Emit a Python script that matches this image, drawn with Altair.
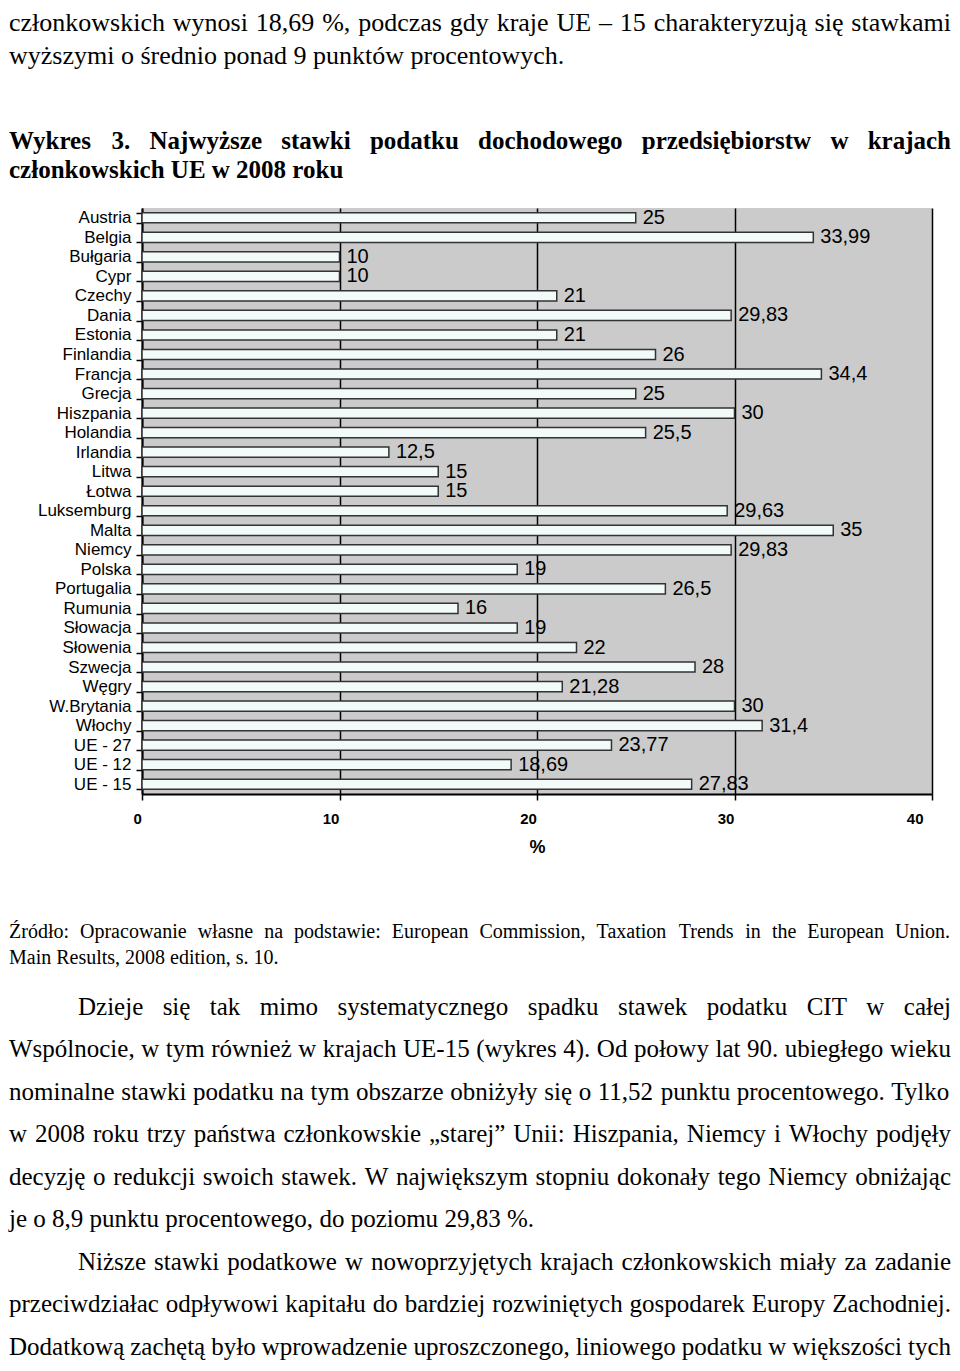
import altair as alt
import pandas as pd

# ---------------- chart data ----------------
countries = ["Austria", "Belgia", "Bułgaria", "Cypr", "Czechy", "Dania", "Estonia",
             "Finlandia", "Francja", "Grecja", "Hiszpania", "Holandia", "Irlandia",
             "Litwa", "Łotwa", "Luksemburg", "Malta", "Niemcy", "Polska", "Portugalia",
             "Rumunia", "Słowacja", "Słowenia", "Szwecja", "Węgry", "W.Brytania",
             "Włochy", "UE - 27", "UE - 12", "UE - 15"]
rates = [25, 33.99, 10, 10, 21, 29.83, 21, 26, 34.4, 25, 30, 25.5, 12.5, 15, 15,
         29.63, 35, 29.83, 19, 26.5, 16, 19, 22, 28, 21.28, 30, 31.4, 23.77, 18.69, 27.83]
x_ticks = [0, 10, 20, 30, 40]

# ---------------- page text ----------------
top_lines = ["członkowskich wynosi 18,69 %, podczas gdy kraje UE – 15 charakteryzują się stawkami",
             "wyższymi o średnio ponad 9 punktów procentowych."]
title_lines = ["Wykres 3. Najwyższe stawki podatku dochodowego przedsiębiorstw w krajach",
               "członkowskich UE w 2008 roku"]
source_lines = ["Źródło: Opracowanie własne na podstawie: European Commission, Taxation Trends in the European Union.",
                "Main Results, 2008 edition, s. 10."]
body_lines = ["Dzieje się tak mimo systematycznego spadku stawek podatku CIT w całej",
              "Wspólnocie, w tym również w krajach UE-15 (wykres 4). Od połowy lat 90. ubiegłego wieku",
              "nominalne stawki podatku na tym obszarze obniżyły się o 11,52 punktu procentowego. Tylko",
              "w 2008 roku trzy państwa członkowskie „starej” Unii: Hiszpania, Niemcy i Włochy podjęły",
              "decyzję o redukcji swoich stawek. W największym stopniu dokonały tego Niemcy obniżając",
              "je o 8,9 punktu procentowego, do poziomu 29,83 %.",
              "Niższe stawki podatkowe w nowoprzyjętych krajach członkowskich miały za zadanie",
              "przeciwdziałac odpływowi kapitału do bardziej rozwiniętych gospodarek Europy Zachodniej.",
              "Dodatkową zachętą było wprowadzenie uproszczonego, liniowego podatku w większości tych"]

# ---------------- layout (page pixels) ----------------
PLOT_LEFT, PLOT_TOP = 142, 208
PLOT_W, PLOT_H = 790, 586
SVG_W, SVG_H = 944, 1355

# Times metrics (1/1000 em) to justify lines like the original document
TR = dict(zip("abcdefghijklmnopqrstuvwxyz",
              [444, 500, 444, 500, 444, 333, 500, 500, 278, 278, 500, 278, 778, 500, 500, 500, 500,
               333, 389, 278, 500, 500, 722, 500, 500, 444]))
TR.update(zip("ABCDEFGHIJKLMNOPQRSTUVWXYZ",
              [722, 667, 667, 722, 611, 556, 722, 722, 333, 389, 722, 611, 889, 722, 722, 556, 722,
               667, 556, 611, 722, 722, 944, 722, 722, 611]))
TR.update({c: 500 for c in "0123456789"})
TR.update({" ": 250, ",": 250, ".": 250, ":": 278, ";": 278, "%": 833, "(": 333, ")": 333,
           "-": 333, "–": 500, "„": 444, "”": 444})
TB = dict(zip("abcdefghijklmnopqrstuvwxyz",
              [500, 556, 444, 556, 444, 333, 500, 556, 278, 333, 556, 278, 833, 556, 500, 556, 556,
               444, 389, 333, 556, 500, 722, 500, 500, 444]))
TB.update(zip("ABCDEFGHIJKLMNOPQRSTUVWXYZ",
              [722, 667, 722, 722, 667, 611, 778, 778, 389, 500, 778, 667, 944, 722, 778, 611, 778,
               722, 556, 667, 722, 722, 1000, 722, 722, 667]))
TB.update({c: 500 for c in "0123456789"})
TB.update({" ": 250, ",": 250, ".": 250, ":": 333, "%": 1000, "(": 333, ")": 333, "-": 333})
BASE = str.maketrans("ąćęłńóśźżĄĆĘŁŃÓŚŹŻ", "acelnoszzACELNOSZZ")


def word_w(w, fs, bold):
    t = TB if bold else TR
    return sum(t.get(ch, 500) for ch in w.translate(BASE)) / 1000.0 * fs


def layout(line, x0, x1, yc, fs, justify, bold):
    words = line.split(" ")
    widths = [word_w(w, fs, bold) for w in words]
    if justify and len(words) > 1:
        gap = (x1 - x0 - sum(widths)) / (len(words) - 1)
    else:
        gap = 0.25 * fs
    rows, x = [], x0
    for w, wd in zip(words, widths):
        rows.append({"w": w, "px": x - PLOT_LEFT, "py": yc - PLOT_TOP, "fs": fs})
        x += wd + gap
    return rows


L, R = 9, 951
reg_rows, bold_rows = [], []
reg_rows += layout(top_lines[0], L, R, 23, 26, True, False)
reg_rows += layout(top_lines[1], L, R, 56, 26, False, False)
bold_rows += layout(title_lines[0], L, R, 141, 25, True, True)
bold_rows += layout(title_lines[1], L, R, 170, 25, False, True)
reg_rows += layout(source_lines[0], L, 950, 932, 20, True, False)
reg_rows += layout(source_lines[1], L, 950, 958, 20, False, False)
body_y = [1007, 1049, 1092, 1134, 1177, 1219, 1262, 1304, 1347]
body_x0 = [78, L, L, L, L, L, 78, L, L]
body_just = [True, True, True, True, True, False, True, True, True]
for ln, yy, xx, jj in zip(body_lines, body_y, body_x0, body_just):
    reg_rows += layout(ln, xx, R, yy, 25, jj, False)

df_reg = pd.DataFrame(reg_rows)
df_bold = pd.DataFrame(bold_rows)

df = pd.DataFrame({"kraj": countries, "stawka": rates})
df["etykieta"] = [f"{v:g}".replace(".", ",") for v in rates]

# ---------------- chart ----------------
x_enc = alt.X("stawka:Q",
              scale=alt.Scale(domain=[0, 40], nice=False, zero=True),
              axis=alt.Axis(values=x_ticks, title="%", grid=True, gridColor="black",
                            gridWidth=1.5, domainColor="black", domainWidth=2,
                            tickColor="black", tickWidth=1.5, tickSize=6,
                            labelFont="Liberation Sans", labelFontSize=15,
                            labelFontWeight="bold", labelColor="black", labelPadding=11,
                            labelOffset=-9, titleFont="Liberation Sans", titleFontSize=18,
                            titleFontWeight="bold", titleColor="black", titlePadding=12))
y_enc = alt.Y("kraj:N", sort=countries,
              scale=alt.Scale(paddingInner=0.48, paddingOuter=0.24),
              axis=alt.Axis(title=None, domainColor="black", domainWidth=2,
                            tickColor="black", tickWidth=1.5, tickSize=6, tickBand="extent",
                            labelFont="Liberation Sans", labelFontSize=17,
                            labelColor="black", labelPadding=5, grid=False))

bars = alt.Chart(df).mark_bar(fill="#f3fafa", stroke="#333333", strokeWidth=1.5).encode(
    x=x_enc, y=y_enc)
labels = alt.Chart(df).mark_text(align="left", baseline="middle", dx=7,
                                 font="Liberation Sans", fontSize=20, color="black").encode(
    x="stawka:Q", y=alt.Y("kraj:N", sort=countries), text="etykieta:N")

chart_part = alt.layer(bars, labels)

txt_reg = alt.Chart(df_reg).mark_text(align="left", baseline="middle",
                                      font="Liberation Serif", color="black").encode(
    x=alt.X("px:Q", scale=None, axis=None),
    y=alt.Y("py:Q", scale=None, axis=None),
    size=alt.Size("fs:Q", scale=None, legend=None),
    text="w:N")
txt_bold = alt.Chart(df_bold).mark_text(align="left", baseline="middle",
                                        font="Liberation Serif", fontWeight="bold",
                                        color="black").encode(
    x=alt.X("px:Q", scale=None, axis=None),
    y=alt.Y("py:Q", scale=None, axis=None),
    size=alt.Size("fs:Q", scale=None, legend=None),
    text="w:N")

chart = alt.layer(chart_part, txt_reg, txt_bold).resolve_scale(
    x="independent", y="independent", size="independent"
).properties(
    width=PLOT_W, height=PLOT_H,
    padding={"left": PLOT_LEFT - 8, "top": PLOT_TOP - 8,
             "right": SVG_W - (PLOT_LEFT - 8) - PLOT_W,
             "bottom": SVG_H - (PLOT_TOP - 8) - PLOT_H},
    autosize=alt.AutoSizeParams(type="none"),
    background="white",
).configure_view(fill="#cbcbcb", stroke=None)

chart.save("out.html", embed_options={"renderer": "svg", "actions": False})
